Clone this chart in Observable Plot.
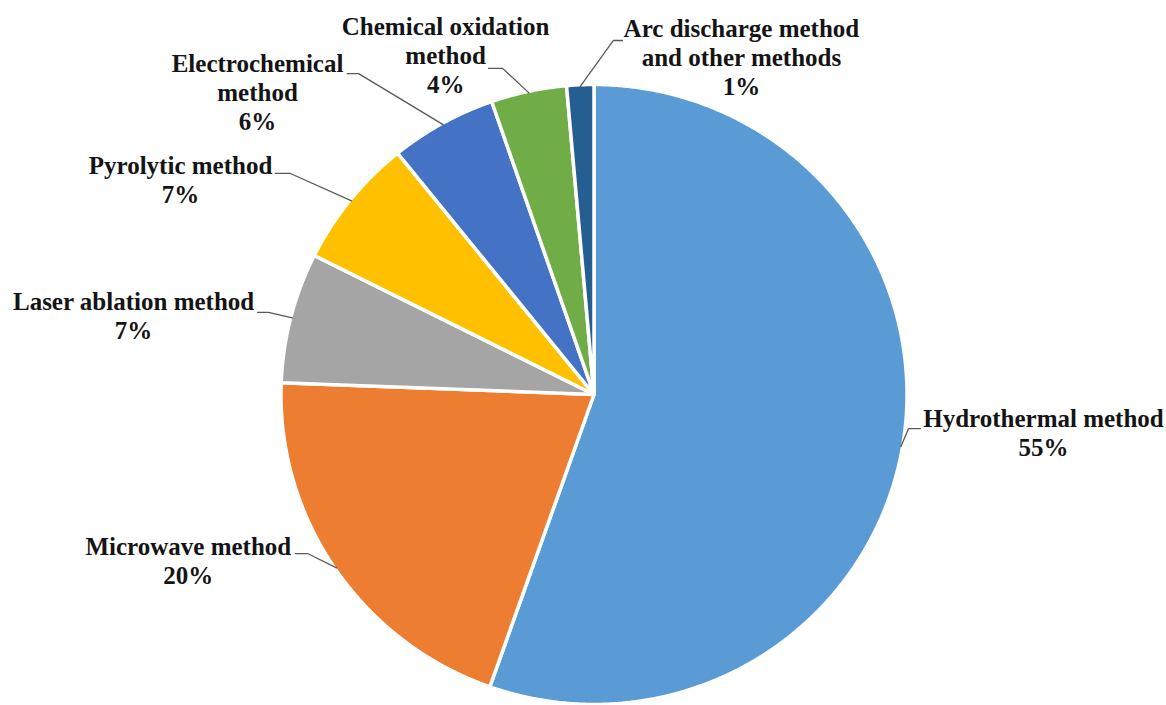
<!DOCTYPE html>
<html>
<head>
<meta charset="utf-8">
<script src="https://cdn.jsdelivr.net/npm/d3@7"></script>
<script src="https://cdn.jsdelivr.net/npm/@observablehq/plot@0.6"></script>
<style>
  html, body { margin: 0; padding: 0; background: #ffffff; }
  #chart svg { display: block; }
</style>
</head>
<body>
<div id="chart"></div>
<script>
// ---- data (clockwise from 12 o'clock) ----
const names = ["Hydrothermal method", "Microwave method", "Laser ablation method", "Pyrolytic method",
               "Electrochemical method", "Chemical oxidation method", "Arc discharge method and other methods"];
const values = [55.4, 20.2, 6.8, 6.8, 5.5, 3.9, 1.4];
const labelText = ["Hydrothermal method", "Microwave method", "Laser ablation method", "Pyrolytic method",
                   "Electrochemical\nmethod", "Chemical oxidation\nmethod", "Arc discharge method\nand other methods"];
const colors = ["#5B9BD5", "#ED7D31", "#A5A5A5", "#FFC000", "#4472C4", "#70AD47", "#255E91"];

// ---- label layout (unit-radius coordinates, pie centre = 0,0) ----
const labelX  = [1.436, -1.296, -1.471, -1.321, -1.075, -0.474, 0.471];
const labelY  = [-0.084, -0.497, 0.294, 0.732, 1.061, 1.181, 1.174];
const elbowX  = [1.005, -0.915, -1.040, -0.970, -0.752, -0.292, 0.062];
const endX    = [1.043, -0.954, -1.075, -1.018, -0.788, -0.337, 0.091];
const leaderY = [-0.110, -0.513, 0.265, 0.713, 1.035, 1.052, 1.142];

// ---- build geometry from data ----
const arcs = d3.pie().sort(null).value(d => d)(values);
const slicePts = [];
arcs.forEach((a, i) => {
  slicePts.push({name: names[i], x: 0, y: 0});
  const n = Math.max(4, Math.ceil((a.endAngle - a.startAngle) / 0.005));
  for (let k = 0; k <= n; k++) {
    const t = a.startAngle + (a.endAngle - a.startAngle) * k / n;
    slicePts.push({name: names[i], x: Math.sin(t), y: Math.cos(t)});
  }
});

const leaderPts = [];
arcs.forEach((a, i) => {
  const m = (a.startAngle + a.endAngle) / 2;
  leaderPts.push({name: names[i], x: Math.sin(m) * 0.995, y: Math.cos(m) * 0.995});
  leaderPts.push({name: names[i], x: elbowX[i], y: leaderY[i]});
  leaderPts.push({name: names[i], x: endX[i], y: leaderY[i]});
});

const labels = arcs.map((a, i) => ({
  x: labelX[i], y: labelY[i],
  text: labelText[i] + "\n" + Math.round(values[i]) + "%"
}));

const W = 1166, H = 705;
const cx = 593.5, cy = 394, rx = 313, ry = 310;

const chart = Plot.plot({
  width: W, height: H,
  margin: 0,
  style: {background: "#ffffff"},
  x: {domain: [-cx / rx, (W - cx) / rx], axis: null},
  y: {domain: [-(H - cy) / ry, cy / ry], axis: null},
  color: {domain: names, range: colors},
  marks: [
    Plot.line(slicePts, {x: "x", y: "y", z: "name", fill: "name", stroke: "#ffffff",
      strokeWidth: 3.5, strokeLinejoin: "round", curve: "linear-closed"}),
    Plot.line(leaderPts, {x: "x", y: "y", z: "name", stroke: "#595959", strokeWidth: 1.3}),
    Plot.text(labels, {x: "x", y: "y", text: "text", fontSize: 25, fontWeight: "bold",
      fontFamily: "'Liberation Serif', 'Times New Roman', serif", fill: "#141414",
      lineHeight: 1.16, lineAnchor: "top", dy: -14})
  ]
});
document.getElementById("chart").appendChild(chart);
</script>
</body>
</html>
